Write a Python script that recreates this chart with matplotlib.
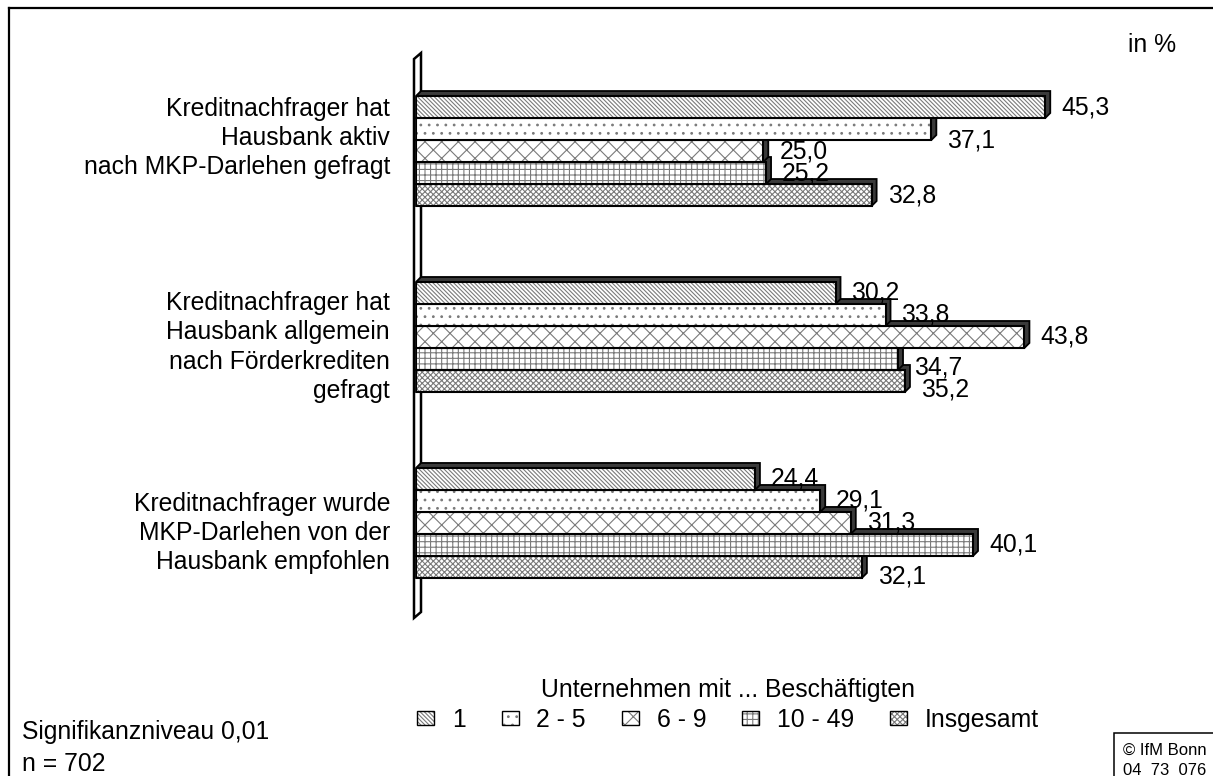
"""
Kreditnachfrager und Hausbank (MKP-Darlehen) - nach Unternehmensgröße.
3D-Balkendiagramm im Excel-Stil nachgebaut.
"""
import matplotlib
matplotlib.use("Agg")
import matplotlib.pyplot as plt
from matplotlib.patches import Patch, Polygon, Rectangle
from matplotlib.lines import Line2D
from matplotlib.legend_handler import HandlerTuple

plt.rcParams["font.family"] = ["Liberation Sans", "DejaVu Sans"]
plt.rcParams["hatch.linewidth"] = 0.8

# ── Daten ──
kategorien = [
    "Kreditnachfrager hat\nHausbank aktiv\nnach MKP-Darlehen gefragt",
    "Kreditnachfrager hat\nHausbank allgemein\nnach Förderkrediten\ngefragt",
    "Kreditnachfrager wurde\nMKP-Darlehen von der\nHausbank empfohlen",
]
serien = ["1", "2 - 5", "6 - 9", "10 - 49", "Insgesamt"]
w_1 = [45.3, 30.2, 24.4]
w_2_5 = [37.1, 33.8, 29.1]
w_6_9 = [25.0, 43.8, 31.3]
w_10_49 = [25.2, 34.7, 40.1]
w_gesamt = [32.8, 35.2, 32.1]
werte = [w_1, w_2_5, w_6_9, w_10_49, w_gesamt]

# ── Stil ──
W, H = 1213, 776
FS = 17.8
GRAU = "#7a7a7a"
DUNKEL = "#3a3a3a"
schraffur = ["\\" * 8, "..", "xx", "+++", "xxxxxx"]
TIEFE = 5  # px, 3D-Tiefe der Balken
# kleine vertikale Verschiebungen (px, nach unten) wie im Original
label_dy = {(0, 1): 11, (1, 3): 9, (1, 4): 9, (2, 4): 10}
kat_dy = [13, -10, -10]  # px, nach oben

fig = plt.figure(figsize=(W / 100, H / 100), dpi=100)
fig.patch.set_facecolor("white")

XMAX = 55
Y_OBEN, Y_UNTEN = -0.527, 2.511
ax = fig.add_axes([416 / W, 1 - 618 / H, 764 / W, 565 / H])
ax.set_xlim(0, XMAX)
ax.set_ylim(Y_UNTEN, Y_OBEN)
ax.axis("off")

px_x = XMAX / 764
px_y = (Y_UNTEN - Y_OBEN) / 565
bar_h = 22 / 186
dx, dy = TIEFE * px_x, TIEFE * px_y

# Rückwand (schmale 3D-Wand an der y-Achse)
wand = Polygon([(-2 * px_x, Y_UNTEN), (-2 * px_x, Y_OBEN + 6 * px_y),
                (5 * px_x, Y_OBEN), (5 * px_x, Y_UNTEN - 6 * px_y)],
               closed=True, facecolor="white", edgecolor="black",
               lw=1.8, clip_on=False, zorder=2)
ax.add_patch(wand)

n = len(serien)
for j in reversed(range(n)):
    z = 10 + (n - 1 - j) * 3
    ys = [i + (j - (n - 1) / 2) * bar_h for i in range(len(kategorien))]
    # 3D-Körper (Ober- und Seitenfläche)
    for y, v in zip(ys, werte[j]):
        top, bot = y - bar_h / 2, y + bar_h / 2
        ax.add_patch(Polygon([(0, bot), (0, top), (dx, top - dy), (v + dx, top - dy),
                              (v + dx, bot - dy), (v, bot)], closed=True,
                             facecolor=DUNKEL, edgecolor="black", lw=1.3,
                             clip_on=False, zorder=z))
    ax.barh(ys, werte[j], height=bar_h, color="white", edgecolor=GRAU,
            hatch=schraffur[j], linewidth=0, zorder=z + 1)
    ax.barh(ys, werte[j], height=bar_h, fill=False, edgecolor="black",
            linewidth=1.5, zorder=z + 2)
    for i, (y, v) in enumerate(zip(ys, werte[j])):
        ax.annotate(f"{v:.1f}".replace(".", ","), xy=(v, y),
                    xytext=(16 * 0.72, -label_dy.get((i, j), 0) * 0.72),
                    textcoords="offset points", ha="left", va="center",
                    fontsize=FS, zorder=40)

for i, kat in enumerate(kategorien):
    ax.annotate(kat, xy=(0, i), xytext=(-26 * 0.72, kat_dy[i] * 0.72),
                textcoords="offset points", ha="right", va="center",
                multialignment="right", linespacing=1.28, fontsize=FS,
                annotation_clip=False)

# ── Legende ──
handles = [(Patch(facecolor="white", edgecolor=GRAU, hatch=h, lw=0),
            Patch(facecolor="none", edgecolor="black", lw=1.0))
           for h in schraffur]
fig.legend(handles, serien, loc="center", bbox_to_anchor=(728 / W, 1 - 705 / H),
           ncol=5, frameon=False, fontsize=FS,
           title="Unternehmen mit ... Beschäftigten", title_fontsize=FS,
           handlelength=0.68, handleheight=0.52, handletextpad=0.72,
           columnspacing=1.46, labelspacing=0.22,
           handler_map={tuple: HandlerTuple(ndivide=1)})

# ── Texte, Rahmen ──
fig.text(1152 / W, 1 - 52 / H, "in %", ha="center", va="baseline", fontsize=FS)
fig.text(22 / W, 1 - 739 / H, "Signifikanzniveau 0,01", va="baseline", fontsize=FS)
fig.text(22 / W, 1 - 771 / H, "n = 702", va="baseline", fontsize=FS)

fig.add_artist(Line2D([9 / W, 9 / W], [0, 1 - 8 / H], color="black", lw=1.6))
fig.add_artist(Line2D([9 / W, 1], [1 - 8 / H, 1 - 8 / H], color="black", lw=1.6))
fig.add_artist(Rectangle((1114 / W, -0.01), 0.1, (776 - 733) / H + 0.01,
                         transform=fig.transFigure, fill=False,
                         edgecolor="black", lw=1.1))
fig.text(1123 / W, 1 - 755 / H, "© IfM Bonn", va="baseline", fontsize=12)
fig.text(1123 / W, 1 - 775 / H, "04  73  076", va="baseline", fontsize=12)

fig.savefig("out.png", dpi=100, facecolor="white")
